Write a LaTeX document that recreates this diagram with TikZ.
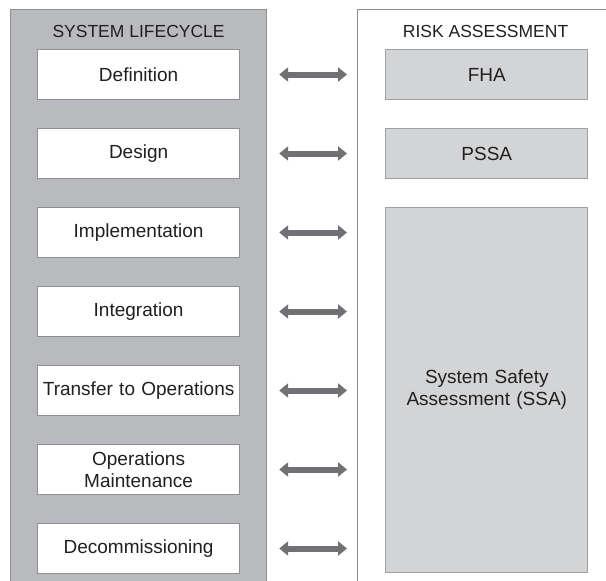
\documentclass[tikz,border=0pt]{standalone}
\usepackage{fontspec}
\setmainfont{Liberation Sans}
\usepackage{xcolor}
\usetikzlibrary{arrows.meta, positioning}
\definecolor{PanelGray}{HTML}{B9BABD}
\definecolor{EdgeGray}{HTML}{8E8F91}
\definecolor{BoxGray}{HTML}{D3D4D6}
\definecolor{ArrowGray}{HTML}{707174}
\definecolor{Ink}{HTML}{231F20}

\begin{document}
\begin{tikzpicture}[
    x=1pt, y=-1pt,
    node distance=27.8pt,
    panel/.style={rectangle, draw=EdgeGray, line width=1.2pt, minimum width=256pt,
                  minimum height=620pt, anchor=north west},
    heading/.style={font=\fontsize{17.5}{20}\selectfont, text=Ink, inner sep=0pt},
    stage/.style={rectangle, draw=EdgeGray, line width=1.2pt, fill=white,
                  minimum width=202pt, minimum height=50pt, text centered, text width=198pt,
                  inner sep=0pt, text=Ink, font=\fontsize{19}{22}\selectfont},
    riskbox/.style={stage, draw=EdgeGray!85, fill=BoxGray},
    link/.style={draw=ArrowGray, line width=6pt,
                 {Triangle[width=14pt,length=9pt]}-{Triangle[width=14pt,length=9pt]},
                 shorten <=12pt, shorten >=10pt}
]
    \clip (0,0) rectangle (606,581);

    % Panels
    \node[panel, fill=PanelGray] (lifecycle) at (10,9) {};
    \node[panel, fill=white] (assessment) at (357,9) {};
    \node[heading] (lifetitle) at ([yshift=-22pt]lifecycle.north) {SYSTEM LIFECYCLE};
    \node[heading] (risktitle) at ([yshift=-22pt]assessment.north) {RISK ASSESSMENT};

    % System lifecycle stages
    \node[stage] (def) at ([yshift=-65.5pt]lifecycle.north) {Definition};
    \node[stage, below=of def] (design) {Design};
    \node[stage, below=of design] (impl) {Implementation};
    \node[stage, below=of impl] (integ) {Integration};
    \node[stage, below=of integ] (transfer) {Transfer to Operations};
    \node[stage, below=of transfer] (opsmaint) {Operations\\Maintenance};
    \node[stage, below=of opsmaint] (decomm) {Decommissioning};

    % Risk assessment
    \node[riskbox, right=145pt of def] (fha) {FHA};
    \node[riskbox, below=of fha] (pssa) {PSSA};
    \node[riskbox, below=of pssa, minimum height=365pt] (ssa) {
        System Safety\\Assessment (SSA)
    };

    % Links
    \draw[link] (def.east -| lifecycle.east) -- (def.east -| assessment.west);
    \draw[link] (design.east -| lifecycle.east) -- (design.east -| assessment.west);
    \draw[link] (impl.east -| lifecycle.east) -- (impl.east -| assessment.west);
    \draw[link] (integ.east -| lifecycle.east) -- (integ.east -| assessment.west);
    \draw[link] (transfer.east -| lifecycle.east) -- (transfer.east -| assessment.west);
    \draw[link] (opsmaint.east -| lifecycle.east) -- (opsmaint.east -| assessment.west);
    \draw[link] (decomm.east -| lifecycle.east) -- (decomm.east -| assessment.west);
\end{tikzpicture}
\end{document}
